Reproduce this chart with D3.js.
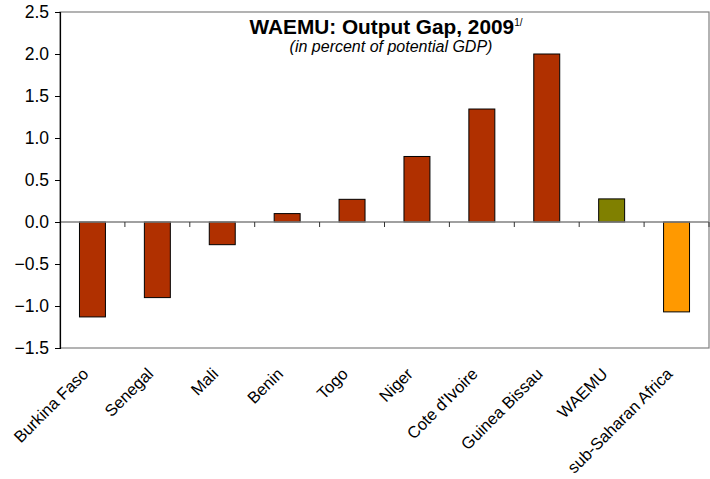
<!DOCTYPE html>
<html><head><meta charset="utf-8">
<script src="https://cdn.jsdelivr.net/npm/d3@7"></script>
<style>body{margin:0;background:#fff}svg{display:block}text{font-family:"Liberation Sans",Arial,sans-serif}</style>
</head><body>
<svg id="c" width="710" height="479"></svg>
<script>
const categories = ["Burkina Faso","Senegal","Mali","Benin","Togo","Niger","Cote d'Ivoire","Guinea Bissau","WAEMU","sub-Saharan Africa"];
const values = [-1.13,-0.90,-0.27,0.10,0.27,0.78,1.345,2.0,0.275,-1.07];
const barColors = ["#B03000","#B03000","#B03000","#B03000","#B03000","#B03000","#B03000","#B03000","#808000","#FF9900"];
const yTicks = [2.5,2.0,1.5,1.0,0.5,0.0,-0.5,-1.0,-1.5];

const svg = d3.select("#c");
const L=60, R=709, T=12, B=348;
const x = d3.scaleBand().domain(categories).range([L,R]).padding(0);
const y = d3.scaleLinear().domain([-1.5,2.5]).range([B,T]);

// frame
svg.append("rect").attr("x",L).attr("y",T).attr("width",R-L).attr("height",B-T)
  .attr("fill","none").attr("stroke","#808080").attr("stroke-width",1.2);

// bars
const bw = x.bandwidth()*0.4;
svg.selectAll("rect.bar").data(categories).join("rect").attr("class","bar")
  .attr("x",d=>x(d)+x.bandwidth()/2-bw/2)
  .attr("y",(d,i)=>y(Math.max(0,values[i])))
  .attr("width",bw)
  .attr("height",(d,i)=>Math.abs(y(values[i])-y(0)))
  .attr("fill",(d,i)=>barColors[i]).attr("stroke","#000").attr("stroke-width",1);

// zero line
svg.append("line").attr("x1",L).attr("x2",R).attr("y1",y(0)).attr("y2",y(0)).attr("stroke","#808080").attr("stroke-width",1.5);
// category ticks
const bounds = categories.slice(1).map(c=>x(c)).concat([R]);
svg.selectAll("line.ct").data(bounds).join("line").attr("class","ct")
  .attr("x1",d=>d).attr("x2",d=>d).attr("y1",y(0)).attr("y2",y(0)+5).attr("stroke","#333");

// y axis
const ya = svg.append("g").attr("transform",`translate(${L},0)`)
  .call(d3.axisLeft(y).tickValues(yTicks).tickFormat(d3.format(".1f")).tickSize(5).tickPadding(6));
ya.select(".domain").attr("stroke","#000").attr("stroke-width",1.2);
ya.selectAll(".tick line").attr("stroke","#000");
ya.selectAll("text").attr("font-size",17.5).attr("fill","#000").style("font-family","'Liberation Sans',Arial,sans-serif");

// x labels
svg.selectAll("text.xl").data(categories).join("text").attr("class","xl")
  .attr("transform",d=>`translate(${x(d)+x.bandwidth()/2-3},${B+27}) rotate(-45)`)
  .attr("text-anchor","end").attr("font-size",16.5).attr("fill","#000").text(d=>d);

// title
const t = svg.append("text").attr("x",386).attr("y",34).attr("text-anchor","middle")
  .attr("font-size",20.8).attr("font-weight","bold").attr("fill","#000");
t.append("tspan").text("WAEMU: Output Gap, 2009");
t.append("tspan").attr("font-size",10).attr("font-weight","normal").attr("dy",-8).text("1/");
svg.append("text").attr("x",391).attr("y",52).attr("text-anchor","middle")
  .attr("font-size",16).attr("font-style","italic").attr("fill","#000").text("(in percent of potential GDP)");
</script>
</body></html>
